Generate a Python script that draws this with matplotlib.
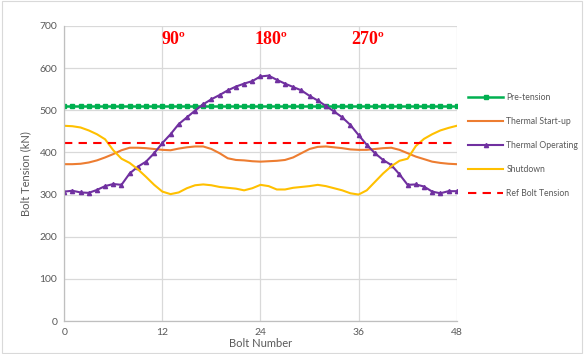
import matplotlib.pyplot as plt
from matplotlib.patches import Rectangle

plt.rcParams['font.family'] = ['Lato', 'DejaVu Sans']

bolts = list(range(49))

pre_tension = [510] * 49
ref_tension = [423] * 49

startup = [372, 372, 373, 376, 381, 388, 396, 405, 411, 411, 410, 408, 406,
           405, 409, 412, 414, 414, 408, 398, 386, 382, 381, 379, 378,
           379, 380, 382, 388, 398, 408, 413, 414, 412, 410, 407, 406,
           406, 408, 410, 411, 406, 398, 390, 384, 378, 375, 373, 372]

operating = [307, 309, 305, 304, 311, 320, 325, 323, 350, 366, 378, 398, 422,
             443, 467, 483, 499, 514, 526, 536, 547, 556, 563, 569, 580,
             582, 572, 563, 555, 547, 534, 523, 510, 497, 483, 465, 441,
             418, 398, 382, 370, 348, 323, 324, 319, 307, 303, 308, 308]

shutdown = [463, 462, 459, 452, 443, 431, 405, 385, 375, 360, 342, 323, 307,
            301, 305, 315, 322, 324, 322, 318, 316, 314, 310, 315, 323,
            320, 312, 312, 316, 318, 320, 323, 320, 315, 310, 303, 300,
            310, 330, 350, 367, 380, 385, 415, 432, 443, 452, 458, 463]

angle_labels = ['90º', '180º', '270º']
angle_pos = [11.9, 23.3, 35.1]

fig = plt.figure(figsize=(5.84, 3.54), dpi=100)
ax = fig.add_axes([0.110, 0.093, 0.672, 0.834])

ax.plot(bolts, pre_tension, color='#00B050', lw=1.8, marker='s', markersize=3.5, label='Pre-tension')
ax.plot(bolts, startup, color='#ED7D31', lw=1.5, label='Thermal Start-up')
ax.plot(bolts, operating, color='#7030A0', lw=1.5, marker='^', markersize=3, label='Thermal Operating')
ax.plot(bolts, shutdown, color='#FFC000', lw=1.5, label='Shutdown')
ax.plot(bolts, ref_tension, color='#FF0000', lw=1.5, ls=(0, (4, 3)), label='Ref Bolt Tension')

for lab, xp in zip(angle_labels, angle_pos):
    ax.text(xp, 667, lab, color='#FF0000', fontsize=13, fontweight='bold',
            family='Liberation Serif', ha='left', va='center')

ax.set_xlim(0, 48)
ax.set_ylim(0, 700)
ax.set_xticks([0, 12, 24, 36, 48])
ax.set_yticks(range(0, 701, 100))
ax.grid(True, color='#D9D9D9', lw=0.9)
ax.set_axisbelow(True)

for s in ['top', 'right']:
    ax.spines[s].set_visible(False)
for s in ['left', 'bottom']:
    ax.spines[s].set_color('#BFBFBF')
    ax.spines[s].set_linewidth(0.9)

ax.tick_params(colors='#595959', labelsize=7.5, length=0, pad=5)
ax.set_xlabel('Bolt Number', color='#595959', fontsize=8, labelpad=1)
ax.set_ylabel('Bolt Tension (kN)', color='#595959', fontsize=8, labelpad=6)

ax.legend(loc='upper left', bbox_to_anchor=(1.01, 0.80), frameon=False,
          fontsize=6.2, labelcolor='#595959', handlelength=4.0,
          labelspacing=1.75, handletextpad=0.4)

fig.patches.append(Rectangle((0.003, 0.003), 0.994, 0.994, transform=fig.transFigure,
                             fill=False, edgecolor='#D9D9D9', lw=0.8))

fig.savefig('out.png', dpi=100)
